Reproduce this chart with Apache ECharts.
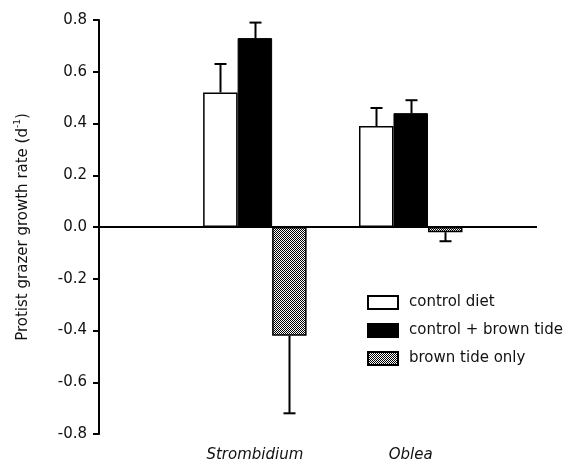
<!DOCTYPE html>
<html>
<head>
<meta charset="utf-8">
<script src="https://cdn.jsdelivr.net/npm/echarts@6/dist/echarts.min.js"></script>
<style>
  html, body { margin: 0; padding: 0; background: #fff; }
  #chart { width: 571px; height: 463px; }
</style>
</head>
<body>
<div id="chart"></div>
<script>
// Protist grazer growth rates by diet treatment
const categories = ['Strombidium', 'Oblea'];
const seriesNames = ['control diet', 'control + brown tide', 'brown tide only'];
const controlDiet = [0.52, 0.39];
const controlBrownTide = [0.73, 0.44];
const brownTideOnly = [-0.42, -0.02];
const errControlDiet = [0.11, 0.07];
const errControlBrownTide = [0.06, 0.05];
const errBrownTideOnly = [0.30, 0.035];
const yTickValues = [-0.8, -0.6, -0.4, -0.2, 0.0, 0.2, 0.4, 0.6, 0.8];

const FONT = 'DejaVu Sans';
const BAR_W = 34.5;

// stippled fill for the "brown tide only" bars
const pat = document.createElement('canvas');
pat.width = 2; pat.height = 2;
const pctx = pat.getContext('2d');
pctx.fillStyle = '#ffffff'; pctx.fillRect(0, 0, 2, 2);
pctx.fillStyle = '#000000'; pctx.fillRect(0, 0, 1, 1); pctx.fillRect(1, 1, 1, 1);

const values = [controlDiet, controlBrownTide, brownTideOnly];
const errors = [errControlDiet, errControlBrownTide, errBrownTideOnly];

const barData = values.map(vals => vals.map((v, i) => [i + 1, v]));
const errData = [];
values.forEach((vals, k) => vals.forEach((v, i) => errData.push([i + 1, v, errors[k][i], k])));

const styles = [
  { color: '#ffffff', borderColor: '#000', borderWidth: 1.5 },
  { color: '#000000', borderColor: '#000', borderWidth: 1 },
  { color: { image: pat, repeat: 'repeat' }, borderColor: '#000', borderWidth: 1.5 }
];

const chart = echarts.init(document.getElementById('chart'), null, { renderer: 'canvas' });

const barSeries = seriesNames.map((name, k) => ({
  name: name,
  type: 'bar',
  data: barData[k],
  barWidth: BAR_W,
  barGap: '0%',
  itemStyle: styles[k],
  z: 2,
  markLine: k === 0 ? {
    silent: true,
    symbol: ['none', 'none'],
    label: { show: false },
    lineStyle: { color: '#000', width: 2, type: 'solid' },
    data: [{ yAxis: 0 }],
    z: 5
  } : undefined
}));

chart.setOption({
  animation: false,
  backgroundColor: '#fff',
  textStyle: { fontFamily: FONT },
  grid: { left: 99, right: 34, top: 20, bottom: 26 },
  legend: {
    orient: 'vertical',
    left: 362,
    top: 290,
    itemWidth: 30,
    itemHeight: 13,
    itemGap: 13,
    icon: 'rect',
    data: seriesNames,
    textStyle: { fontFamily: FONT, fontSize: 15, color: '#111', lineHeight: 15, padding: [0, 0, 0, 6] }
  },
  xAxis: {
    type: 'value',
    min: 0,
    max: 2.81,
    interval: 1,
    splitLine: { show: false },
    axisLine: { show: false },
    axisTick: { show: false },
    axisLabel: {
      margin: 14,
      fontFamily: FONT,
      fontStyle: 'italic',
      fontSize: 15,
      color: '#111',
      formatter: v => categories[Math.round(v) - 1] || ''
    }
  },
  yAxis: {
    type: 'value',
    min: -0.8,
    max: 0.8,
    interval: 0.2,
    splitLine: { show: false },
    axisLine: { show: true, lineStyle: { color: '#000', width: 2 } },
    axisTick: { show: true, length: 6, lineStyle: { color: '#000', width: 2 } },
    axisLabel: {
      margin: 12,
      fontFamily: FONT,
      fontSize: 15,
      color: '#111',
      formatter: v => {
        const t = yTickValues.find(x => Math.abs(x - v) < 1e-6);
        return (t !== undefined ? t : v).toFixed(1);
      }
    },
    name: 'Protist grazer growth rate (d{sup|-1})',
    nameLocation: 'middle',
    nameRotate: 90,
    nameGap: 66,
    nameTextStyle: {
      fontFamily: FONT,
      fontSize: 15,
      color: '#111',
      lineHeight: 20,
      rich: {
        sup: { fontFamily: FONT, fontSize: 9, color: '#111', verticalAlign: 'top', lineHeight: 20, padding: [0, 0, 8, 0] }
      }
    }
  },
  series: barSeries.concat([{
    name: 'error',
    type: 'custom',
    data: errData,
    encode: { x: 0, y: 1 },
    z: 4,
    silent: true,
    renderItem: function (params, api) {
      const x = api.value(0), v = api.value(1), e = api.value(2), k = api.value(3);
      const off = (k - 1) * BAR_W;
      const base = api.coord([x, v]);
      const tip = api.coord([x, v + (v >= 0 ? 1 : -1) * e]);
      const px = Math.round(base[0] + off) + 0.5;
      const style = { stroke: '#000', lineWidth: 2 };
      return {
        type: 'group',
        children: [
          { type: 'line', shape: { x1: px, y1: base[1], x2: px, y2: tip[1] }, style: style },
          { type: 'line', shape: { x1: px - 6, y1: tip[1], x2: px + 6, y2: tip[1] }, style: style }
        ]
      };
    }
  }])
});
</script>
</body>
</html>
